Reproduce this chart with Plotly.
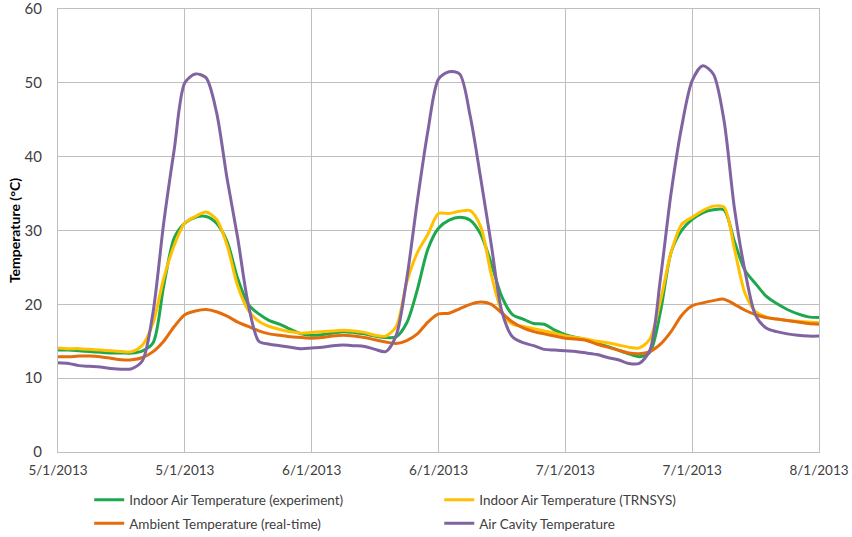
import plotly.graph_objects as go

hours = list(range(73))
tick_vals = [0, 12, 24, 36, 48, 60, 72]
tick_text = ["5/1/2013", "5/1/2013", "6/1/2013", "6/1/2013", "7/1/2013", "7/1/2013", "8/1/2013"]

indoor_exp = [13.8, 13.8, 13.7, 13.6, 13.5, 13.4, 13.4, 13.4, 13.7, 14.8,
              22.5, 29.0, 31.0, 31.8, 31.9, 31.0, 28.5, 23.5, 20.0, 18.7,
              17.8, 17.3, 16.6, 16.0, 15.8, 15.9, 16.1, 16.3, 16.2, 16.0,
              15.7, 15.5, 15.6, 17.5, 22.0, 27.5, 30.3, 31.4, 31.8, 31.4,
              29.5, 25.5, 21.0, 18.6, 18.0, 17.4, 17.3, 16.5, 15.9, 15.5,
              15.2, 14.7, 14.3, 13.8, 13.3, 12.9, 13.5, 19.0, 27.0, 30.0,
              31.5, 32.4, 32.8, 32.8, 28.5, 24.6, 22.8, 21.1, 20.1, 19.3,
              18.7, 18.3, 18.2]

indoor_trnsys = [14.1, 14.0, 14.0, 13.9, 13.8, 13.7, 13.6, 13.6, 14.5, 17.5,
                 23.5, 28.0, 31.0, 31.9, 32.5, 31.5, 28.0, 22.5, 19.2, 17.7,
                 17.0, 16.6, 16.3, 16.1, 16.2, 16.3, 16.4, 16.5, 16.4, 16.2,
                 15.8, 15.7, 17.0, 23.0, 27.0, 29.5, 32.3, 32.3, 32.6, 32.7,
                 30.5, 24.0, 19.0, 17.3, 17.0, 16.7, 16.4, 16.1, 15.7, 15.5,
                 15.3, 15.0, 14.8, 14.5, 14.2, 14.1, 15.3, 20.5, 27.0, 30.8,
                 31.8, 32.7, 33.3, 33.2, 27.5, 21.5, 19.0, 18.3, 18.0, 17.8,
                 17.7, 17.6, 17.5]

ambient = [12.9, 12.9, 13.0, 13.0, 12.9, 12.7, 12.5, 12.5, 12.8, 13.6,
           15.0, 17.0, 18.6, 19.1, 19.3, 19.0, 18.4, 17.6, 17.0, 16.4,
           16.0, 15.8, 15.6, 15.5, 15.4, 15.5, 15.7, 15.8, 15.7, 15.5,
           15.2, 14.9, 14.7, 15.1, 16.0, 17.6, 18.7, 18.8, 19.4, 20.0,
           20.3, 20.0, 18.8, 17.6, 16.8, 16.3, 16.0, 15.7, 15.4, 15.3,
           15.1, 14.6, 14.2, 13.8, 13.4, 13.3, 13.6, 14.6, 16.3, 18.5,
           19.8, 20.2, 20.5, 20.7, 20.0, 19.2, 18.6, 18.2, 18.0, 17.8,
           17.6, 17.4, 17.3]

air_cavity = [12.1, 12.0, 11.7, 11.6, 11.5, 11.3, 11.2, 11.3, 12.4, 19.0,
              31.0, 41.0, 50.0, 51.2, 50.7, 46.0, 37.0, 29.0, 20.0, 15.0,
              14.6, 14.4, 14.2, 14.0, 14.1, 14.2, 14.4, 14.5, 14.4, 14.3,
              13.9, 13.6, 15.8, 23.5, 34.0, 43.5, 50.5, 51.5, 51.2, 45.5,
              37.0, 28.0, 19.0, 15.6, 14.8, 14.4, 13.9, 13.8, 13.7, 13.6,
              13.4, 13.2, 12.8, 12.5, 12.0, 12.0, 13.8, 23.5, 35.0, 44.0,
              50.3, 52.3, 51.2, 45.0, 33.0, 24.5, 18.5, 16.8, 16.3, 16.0,
              15.8, 15.7, 15.7]

series = [
    ("Indoor Air Temperature (experiment)", indoor_exp, "#1ea84e", "legend"),
    ("Indoor Air Temperature (TRNSYS)", indoor_trnsys, "#ffc000", "legend2"),
    ("Ambient Temperature (real-time)", ambient, "#e46c0a", "legend"),
    ("Air Cavity Temperature", air_cavity, "#8064a2", "legend2"),
]

fig = go.Figure()
for i, (name, vals, color, leg) in enumerate(series):
    fig.add_trace(go.Scatter(x=hours, y=vals, name=name, mode="lines",
                             legend=leg, legendgroup=f"g{i}",
                             line=dict(color=color, width=3, shape="spline", smoothing=0.8)))

grid = "#bfbfbf"
leg_common = dict(orientation="v", y=-0.0734, yanchor="top", tracegroupgap=3,
                  font=dict(size=13.5, color="#404040"), bgcolor="rgba(0,0,0,0)")
fig.update_layout(
    width=852, height=537,
    margin=dict(l=58, r=33, t=9, b=85, autoexpand=False),
    paper_bgcolor="white", plot_bgcolor="white",
    font=dict(family="Lato, Open Sans, sans-serif", size=14, color="#404040"),
    showlegend=True,
    legend=dict(x=0.041, xanchor="left", **leg_common),
    legend2=dict(x=0.501, xanchor="left", **leg_common),
)
fig.update_xaxes(range=[0, 72], tickvals=tick_vals, ticktext=tick_text, automargin=False,
                 showgrid=True, gridcolor=grid, gridwidth=1,
                 showline=True, linecolor=grid, linewidth=1, mirror=True,
                 ticks="outside", ticklen=6, tickcolor="rgba(0,0,0,0)",
                 ticklabeloverflow="allow",
                 tickfont=dict(size=13.5, color="#404040"), zeroline=False)
fig.update_yaxes(range=[0, 60], dtick=10, automargin=False,
                 showgrid=True, gridcolor=grid, gridwidth=1,
                 showline=True, linecolor=grid, linewidth=1, mirror=True,
                 ticks="outside", ticklen=12, tickcolor="rgba(0,0,0,0)",
                 ticklabeloverflow="allow",
                 tickfont=dict(size=15, color="#404040"), zeroline=False,
                 title=dict(text="<b>Temperature (°C)</b>", font=dict(size=14, color="#000000"), standoff=0))

fig.write_html("out.html", config={"displayModeBar": False},
               post_script="document.body.style.margin='0px';")
